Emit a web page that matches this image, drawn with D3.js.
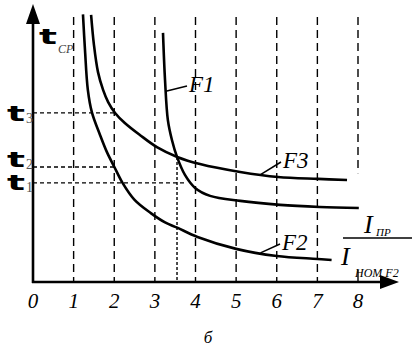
<!DOCTYPE html>
<html>
<head>
<meta charset="utf-8">
<script src="https://cdn.jsdelivr.net/npm/d3@7"></script>
<style>
	body { margin: 0; background: #fff; }
	svg { display: block; }
</style>
</head>
<body>
<div id="chart"></div>
<script>
// x ticks of the current ratio axis
var xTicks = [0, 1, 2, 3, 4, 5, 6, 7, 8];
var gridX = [1, 2, 3, 4, 5, 6, 7];

// characteristic curves (x = I_PR / I_NOM F2, y = t_CP, arbitrary units)
var f1X = [3.2, 3.25, 3.32, 3.42, 3.545, 3.74, 3.99, 4.36, 5.1, 6.08, 7.06, 8.02];
var f1Y = [9.4, 7.62, 6.11, 5.36, 4.72, 4.04, 3.55, 3.25, 3.06, 2.91, 2.83, 2.79];

var f2X = [1.23, 1.28, 1.35, 1.45, 1.65, 1.82, 2.0, 2.2, 2.5, 2.9, 3.25, 3.55, 4.05, 5.0, 6.0, 7.0, 7.35];
var f2Y = [10.1, 8.75, 7.25, 6.4, 5.55, 4.9, 4.35, 3.75, 3.1, 2.6, 2.25, 2.05, 1.7, 1.25, 0.98, 0.87, 0.83];

var f3X = [1.43, 1.5, 1.6, 1.725, 1.85, 2.02, 2.26, 2.63, 3.05, 3.55, 4.11, 5.1, 6.03, 7.02, 7.73];
var f3Y = [10.08, 8.95, 7.92, 7.25, 6.79, 6.38, 6.0, 5.55, 5.09, 4.72, 4.45, 4.15, 3.96, 3.89, 3.85];

// time levels t1..t3 and where their guide lines stop
var tLevels = [3.74, 4.34, 6.38];
var tNames = ["1", "2", "3"];
var tLineEnd = [3.75, 2, 2];

// crossing of F1 and F3
var crossX = 3.545;
var crossY = 4.72;

var width = 417, height = 350;

var x = d3.scaleLinear().domain([0, 8]).range([33, 358]);
var y = d3.scaleLinear().domain([0, 10]).range([282, 17]);

var svg = d3.select("#chart")
	.append("svg")
		.attr("width", width)
		.attr("height", height);

var serif = "'Liberation Serif', 'Times New Roman', serif";

// vertical dashed grid lines
svg.append("g")
	.selectAll("line")
	.data(gridX)
	.enter()
		.append("line")
			.attr("x1", function(d) { return x(d); })
			.attr("x2", function(d) { return x(d); })
			.attr("y1", y(10))
			.attr("y2", y(0))
			.attr("stroke", "#000")
			.attr("stroke-width", 1.4)
			.attr("stroke-dasharray", "8,5");

// line at 8 stops above the fraction label, plus a short tick at the axis
svg.append("line")
	.attr("x1", x(8)).attr("x2", x(8))
	.attr("y1", y(10)).attr("y2", y(4.1))
	.attr("stroke", "#000").attr("stroke-width", 1.4)
	.attr("stroke-dasharray", "8,5");
svg.append("line")
	.attr("x1", x(8)).attr("x2", x(8))
	.attr("y1", y(0.45)).attr("y2", y(0))
	.attr("stroke", "#000").attr("stroke-width", 1.4);

// horizontal guide lines for t1..t3
svg.append("g")
	.selectAll("line")
	.data(tLevels)
	.enter()
		.append("line")
			.attr("x1", x(0))
			.attr("x2", function(d, i) { return x(tLineEnd[i]); })
			.attr("y1", function(d) { return y(d); })
			.attr("y2", function(d) { return y(d); })
			.attr("stroke", "#000")
			.attr("stroke-width", 1.3)
			.attr("stroke-dasharray", "4,3");

// dotted drop line from F1/F3 crossing
svg.append("line")
	.attr("x1", x(crossX)).attr("x2", x(crossX))
	.attr("y1", y(crossY)).attr("y2", y(0))
	.attr("stroke", "#000").attr("stroke-width", 1.4)
	.attr("stroke-dasharray", "3,2");

// curves
var line = d3.line()
	.x(function(d) { return x(d[0]); })
	.y(function(d) { return y(d[1]); })
	.curve(d3.curveCatmullRom.alpha(0.5));

var curves = [
	d3.zip(f1X, f1Y),
	d3.zip(f2X, f2Y),
	d3.zip(f3X, f3Y)
];

svg.append("g")
	.selectAll("path")
	.data(curves)
	.enter()
		.append("path")
			.attr("d", line)
			.attr("fill", "none")
			.attr("stroke", "#000")
			.attr("stroke-width", 2.6);

// curve labels with leader lines
var labels = [
	{ text: "F1", lx: 3.27, ly: 7.2, tx: 189, ty: 92 },
	{ text: "F3", lx: 5.6, ly: 4.05, tx: 283, ty: 168 },
	{ text: "F2", lx: 5.6, ly: 1.1, tx: 282, ty: 250 }
];
labels.forEach(function(d) {
	svg.append("line")
		.attr("x1", x(d.lx)).attr("y1", y(d.ly))
		.attr("x2", d.tx - 2).attr("y2", d.ty - 6)
		.attr("stroke", "#000").attr("stroke-width", 1.5);
	svg.append("text")
		.attr("x", d.tx).attr("y", d.ty)
		.attr("font-family", serif)
		.attr("font-style", "italic")
		.attr("font-size", "23px")
		.text(d.text);
});

// axes with arrow heads
svg.append("line")
	.attr("x1", x(0)).attr("x2", x(0))
	.attr("y1", y(0) + 1).attr("y2", 18)
	.attr("stroke", "#000").attr("stroke-width", 2.6);
svg.append("path")
	.attr("d", "M" + x(0) + ",4 L" + (x(0) - 7) + ",24 L" + (x(0) + 7) + ",24 Z")
	.attr("fill", "#000");
svg.append("line")
	.attr("x1", x(0) - 1).attr("x2", 386)
	.attr("y1", y(0)).attr("y2", y(0))
	.attr("stroke", "#000").attr("stroke-width", 2.6);
svg.append("path")
	.attr("d", "M399," + y(0) + " L380," + (y(0) - 7) + " L380," + (y(0) + 7) + " Z")
	.attr("fill", "#000");

// x tick labels
svg.append("g")
	.selectAll("text")
	.data(xTicks)
	.enter()
		.append("text")
			.attr("x", function(d) { return x(d); })
			.attr("y", 308)
			.attr("text-anchor", "middle")
			.attr("font-family", serif)
			.attr("font-style", "italic")
			.attr("font-size", "21px")
			.text(function(d) { return d; });

// t labels on the y axis
var tGroup = svg.append("g");
tLevels.forEach(function(d, i) {
	var base = [190, 167, 121][i];
	tGroup.append("text")
		.attr("x", 7).attr("y", base)
		.attr("font-family", "'DejaVu Sans', sans-serif")
		.attr("font-weight", "bold")
		.attr("font-size", "21px")
		.attr("textLength", 18)
		.attr("lengthAdjust", "spacingAndGlyphs")
		.text("t");
	tGroup.append("text")
		.attr("x", 26).attr("y", base + 2)
		.attr("font-family", serif)
		.attr("font-size", "14px")
		.attr("fill", "#555")
		.text(tNames[i]);
});

// axis title t_CP
svg.append("text")
	.attr("x", 39).attr("y", 44)
	.attr("font-family", "'DejaVu Sans', sans-serif")
	.attr("font-weight", "bold")
	.attr("font-size", "21px")
	.attr("textLength", 18)
	.attr("lengthAdjust", "spacingAndGlyphs")
	.text("t");
svg.append("text")
	.attr("x", 58).attr("y", 53)
	.attr("font-family", serif)
	.attr("font-style", "italic")
	.attr("font-size", "12px")
	.attr("fill", "#444")
	.text("CP");

// x axis title as a fraction I_ПР / I_НОМ F2
var frac = svg.append("g")
	.attr("font-family", serif)
	.attr("font-style", "italic");
frac.append("text")
	.attr("x", 364).attr("y", 233)
	.attr("font-size", "26px")
	.text("I");
frac.append("text")
	.attr("x", 376).attr("y", 236)
	.attr("font-size", "11px")
	.text("ПР");
frac.append("line")
	.attr("x1", 343).attr("x2", 412)
	.attr("y1", 238).attr("y2", 238)
	.attr("stroke", "#000").attr("stroke-width", 1.3);
frac.append("text")
	.attr("x", 341).attr("y", 265)
	.attr("font-size", "26px")
	.text("I");
frac.append("text")
	.attr("x", 355).attr("y", 277)
	.attr("font-size", "12px")
	.text("НОМ F2");

// panel letter
svg.append("text")
	.attr("x", 208).attr("y", 343)
	.attr("text-anchor", "middle")
	.attr("font-family", serif)
	.attr("font-style", "italic")
	.attr("font-size", "17px")
	.text("б");
</script>
</body>
</html>
